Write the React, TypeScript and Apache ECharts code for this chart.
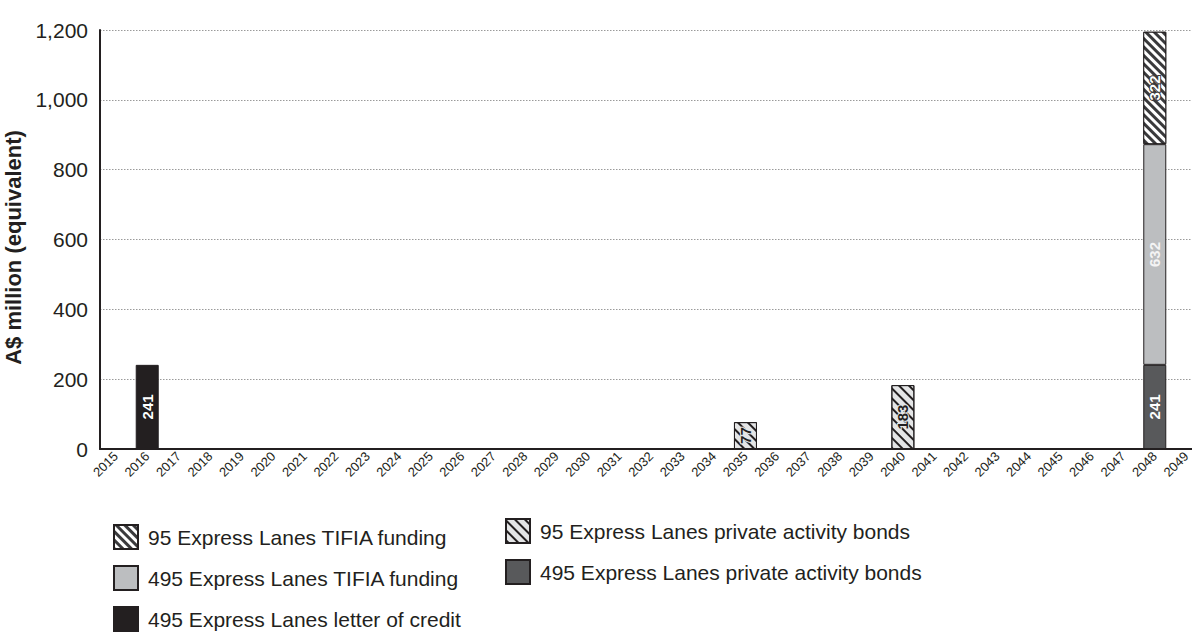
import React, { useEffect, useRef } from "react";
import * as echarts from "echarts";

const years = [
  "2015","2016","2017","2018","2019","2020","2021","2022","2023","2024","2025","2026",
  "2027","2028","2029","2030","2031","2032","2033","2034","2035","2036","2037","2038",
  "2039","2040","2041","2042","2043","2044","2045","2046","2047","2048","2049",
];
const yTicks = [0, 200, 400, 600, 800, 1000, 1200];

const tifia95: [string, number][] = [["2048", 322]];
const tifia495: [string, number][] = [["2048", 632]];
const letterOfCredit495: [string, number][] = [["2016", 241]];
const pab95: [string, number][] = [["2035", 77], ["2040", 183]];
const pab495: [string, number][] = [["2048", 241]];

const names = {
  tifia95: "95 Express Lanes TIFIA funding",
  tifia495: "495 Express Lanes TIFIA funding",
  loc495: "495 Express Lanes letter of credit",
  pab95: "95 Express Lanes private activity bonds",
  pab495: "495 Express Lanes private activity bonds",
};

function toData(points: [string, number][]) {
  const m = new Map(points);
  return years.map((y) => (m.has(y) ? m.get(y)! : null));
}

export default function App() {
  const ref = useRef<HTMLDivElement>(null);
  useEffect(() => {
    if (!ref.current) return;
    const chart = echarts.init(ref.current, undefined, { renderer: "svg" });
    const font = "Liberation Sans, Arial, sans-serif";
    const border = { borderColor: "#231f20", borderWidth: 1 };
    const baseLabel = {
      show: true,
      position: "inside",
      rotate: 90,
      fontWeight: "bold",
      fontSize: 15,
      fontFamily: font,
      color: "#ffffff",
      formatter: (p: any) => String(p.value),
    };
    const mk = (name: string, pts: [string, number][], itemStyle: any, label: any = {}) => ({
      name,
      type: "bar",
      stack: "total",
      barWidth: 23,
      data: toData(pts),
      itemStyle: { ...border, ...itemStyle },
      label: { ...baseLabel, ...label },
    });
    const legendText = {
      fontSize: 21,
      lineHeight: 22,
      color: "#231f20",
      fontFamily: font,
      padding: [0, 0, 0, 5],
    };
    chart.setOption({
      animation: false,
      textStyle: { fontFamily: font },
      grid: {
        left: 100,
        top: 30,
        height: 419,
        width: 1102,
        containLabel: false,
        outerBoundsMode: "none",
      },
      xAxis: {
        type: "category",
        data: years,
        axisLine: { lineStyle: { color: "#231f20", width: 2 } },
        axisTick: { inside: true, length: 9, lineStyle: { color: "#231f20", width: 2 } },
        axisLabel: {
          rotate: 45,
          interval: 0,
          fontSize: 13,
          color: "#231f20",
          fontFamily: font,
          margin: 5,
        },
      },
      yAxis: {
        type: "value",
        min: 0,
        max: 1200,
        interval: 200,
        name: "A$ million (equivalent)",
        nameLocation: "middle",
        nameGap: 63,
        nameTextStyle: {
          fontSize: 22,
          fontWeight: "bold",
          color: "#231f20",
          fontFamily: font,
          padding: [0, 16, 0, 0],
        },
        axisLine: { show: true, lineStyle: { color: "#231f20", width: 2 } },
        axisTick: { show: false },
        axisLabel: {
          fontSize: 21,
          color: "#231f20",
          fontFamily: font,
          margin: 12,
          formatter: (v: number) => (yTicks.includes(v) ? v.toLocaleString("en-US") : ""),
        },
        splitLine: { lineStyle: { color: "#9a9a9a", type: [1.5, 1.5], width: 1 } },
      },
      legend: [
        {
          data: [names.tifia95, names.tifia495, names.loc495],
          orient: "vertical",
          left: 113,
          top: 524,
          width: 380,
          height: 130,
          padding: 0,
          itemWidth: 24,
          itemHeight: 24,
          itemGap: 15,
          icon: "rect",
          textStyle: legendText,
        },
        {
          data: [names.pab95, names.pab495],
          orient: "vertical",
          left: 505,
          top: 518,
          width: 500,
          height: 130,
          padding: 0,
          itemWidth: 24,
          itemHeight: 24,
          itemGap: 15,
          icon: "rect",
          textStyle: legendText,
        },
      ],
      series: [
        mk(names.pab495, pab495, { color: "#58595b" }),
        mk(names.tifia495, tifia495, { color: "#bcbec0" }, { color: "#f4f4f4" }),
        mk(
          names.tifia95,
          tifia95,
          {
            color: "#3a3a3c",
            decal: {
              symbol: "rect",
              color: "#ffffff",
              dashArrayX: [1, 0],
              dashArrayY: [2.5, 3],
              rotation: Math.PI / 4,
            },
          },
          { textBorderColor: "#3a3a3c", textBorderWidth: 2 }
        ),
        mk(names.loc495, letterOfCredit495, { color: "#231f20" }),
        mk(
          names.pab95,
          pab95,
          {
            color: "#e4e5e6",
            decal: {
              symbol: "rect",
              color: "#231f20",
              dashArrayX: [1, 0],
              dashArrayY: [1.8, 5],
              rotation: Math.PI / 4,
            },
          },
          { color: "#231f20", textBorderColor: "#e4e5e6", textBorderWidth: 2 }
        ),
      ],
    });
    return () => chart.dispose();
  }, []);
  return (
    <div
      ref={ref}
      style={{ position: "fixed", left: 0, top: 0, width: 1192, height: 635, background: "#fff" }}
    />
  );
}
